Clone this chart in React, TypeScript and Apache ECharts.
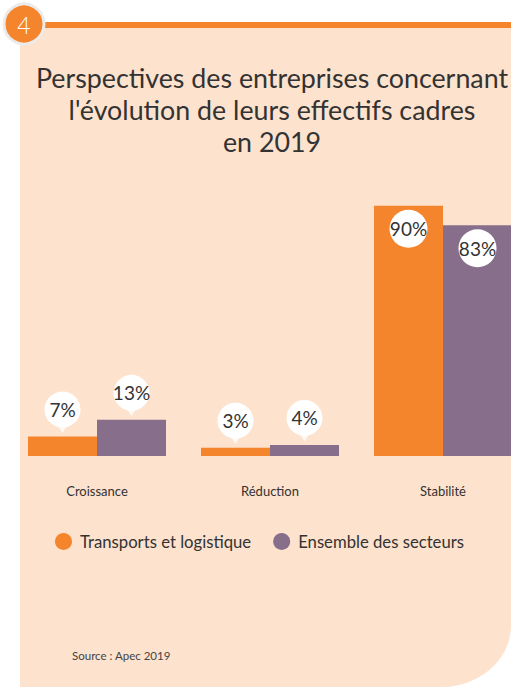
import React, { useEffect, useRef } from "react";
import * as echarts from "echarts";

const categories = ["Croissance", "Réduction", "Stabilité"];
const seriesNames = ["Transports et logistique", "Ensemble des secteurs"];
const transports = [7, 3, 90];
const ensemble = [13, 4, 83];
const titleLines = [
  "Perspectives des entreprises concernant",
  "l'évolution de leurs effectifs cadres",
  "en 2019",
];
const sourceText = "Source : Apec 2019";
const badgeText = "4";

const ORANGE = "#F5852C";
const PURPLE = "#876E8B";
const PEACH = "#FDE2CD";
const TEXT = "#333333";
const FONT = "Lato";

echarts.graphic.registerShape(
  "panelShape",
  (echarts.graphic as any).extendPath(
    "M20 28 H511 V625 C511 660 480 685 445 687 H20 Z",
    {}
  )
);

function labelFor(v: number) {
  const inside = v > 50;
  return {
    show: true,
    position: inside ? "insideTop" : "top",
    distance: inside ? 4 : 9,
    formatter: "{c}%",
    backgroundColor: "#ffffff",
    width: inside ? 38 : 36,
    lineHeight: 20,
    padding: inside ? [9, 0] : [8, 0],
    borderRadius: inside ? 19 : 18,
    color: TEXT,
    fontFamily: FONT,
    fontSize: 19,
  };
}

export default function App() {
  const ref = useRef<HTMLDivElement>(null);
  useEffect(() => {
    document.body.style.margin = "0";
    const chart = echarts.init(ref.current!, null, { renderer: "svg" });
    const mkBar = (name: string, data: number[], color: string) => ({
      name,
      type: "bar",
      barWidth: 69,
      barGap: "0%",
      itemStyle: { color },
      data: data.map((v) => ({ value: v, label: labelFor(v) })),
      z: 2,
    });
    const mkPointer = (data: number[], offsetX: number) => ({
      type: "scatter",
      symbol: "path://M0,0 L10,0 L5,9 Z",
      symbolSize: [11, 9],
      symbolOffset: [offsetX, -8],
      itemStyle: { color: "#ffffff" },
      silent: true,
      z: 3,
      data: data.map((v) => (v > 50 ? "-" : v)),
    });
    chart.setOption({
      animation: false,
      backgroundColor: "#ffffff",
      textStyle: { fontFamily: FONT },
      graphic: [
        {
          type: "panelShape",
          x: 0,
          y: 0,
          style: { fill: PEACH },
          z: -10,
        },
        {
          type: "rect",
          shape: { x: 40, y: 22, width: 471, height: 6 },
          style: { fill: ORANGE },
          z: 1,
        },
        {
          type: "circle",
          shape: { cx: 24, cy: 24, r: 20 },
          style: { fill: ORANGE, stroke: "#ebebeb", lineWidth: 3 },
          z: 2,
        },
        {
          type: "text",
          x: 24,
          y: 25,
          style: {
            text: badgeText,
            fill: "#ffffff",
            font: `300 23px ${FONT}`,
            align: "center",
            verticalAlign: "middle",
          },
          z: 3,
        },
        {
          type: "text",
          x: 272,
          y: 110,
          style: {
            text: titleLines.join("\n"),
            fill: TEXT,
            font: `400 26.8px ${FONT}`,
            lineHeight: 32,
            align: "center",
            verticalAlign: "middle",
          },
        },
        {
          type: "text",
          x: 72,
          y: 655,
          style: {
            text: sourceText,
            fill: "#444444",
            font: `400 11.5px ${FONT}`,
            verticalAlign: "middle",
          },
        },
      ],
      legend: {
        data: seriesNames,
        left: 50,
        top: 528,
        icon: "circle",
        itemWidth: 17,
        itemHeight: 17,
        itemGap: 22,
        textStyle: {
          color: TEXT,
          fontSize: 16.7,
          fontFamily: FONT,
          padding: [0, 0, 0, 3],
        },
      },
      grid: {
        left: 10.5,
        width: 519,
        top: 178,
        bottom: 231,
        containLabel: false,
        outerBoundsMode: "none",
      },
      xAxis: {
        type: "category",
        data: categories,
        axisLine: { show: false },
        axisTick: { show: false },
        axisLabel: { color: TEXT, fontSize: 13, margin: 28, fontFamily: FONT },
      },
      yAxis: {
        type: "value",
        min: 0,
        max: 100,
        show: false,
        splitLine: { show: false },
      },
      series: [
        mkBar(seriesNames[0], transports, ORANGE),
        mkBar(seriesNames[1], ensemble, PURPLE),
        mkPointer(transports, -34.5),
        mkPointer(ensemble, 34.5),
      ],
    });
    return () => chart.dispose();
  }, []);
  return <div ref={ref} style={{ width: 511, height: 687 }} />;
}
